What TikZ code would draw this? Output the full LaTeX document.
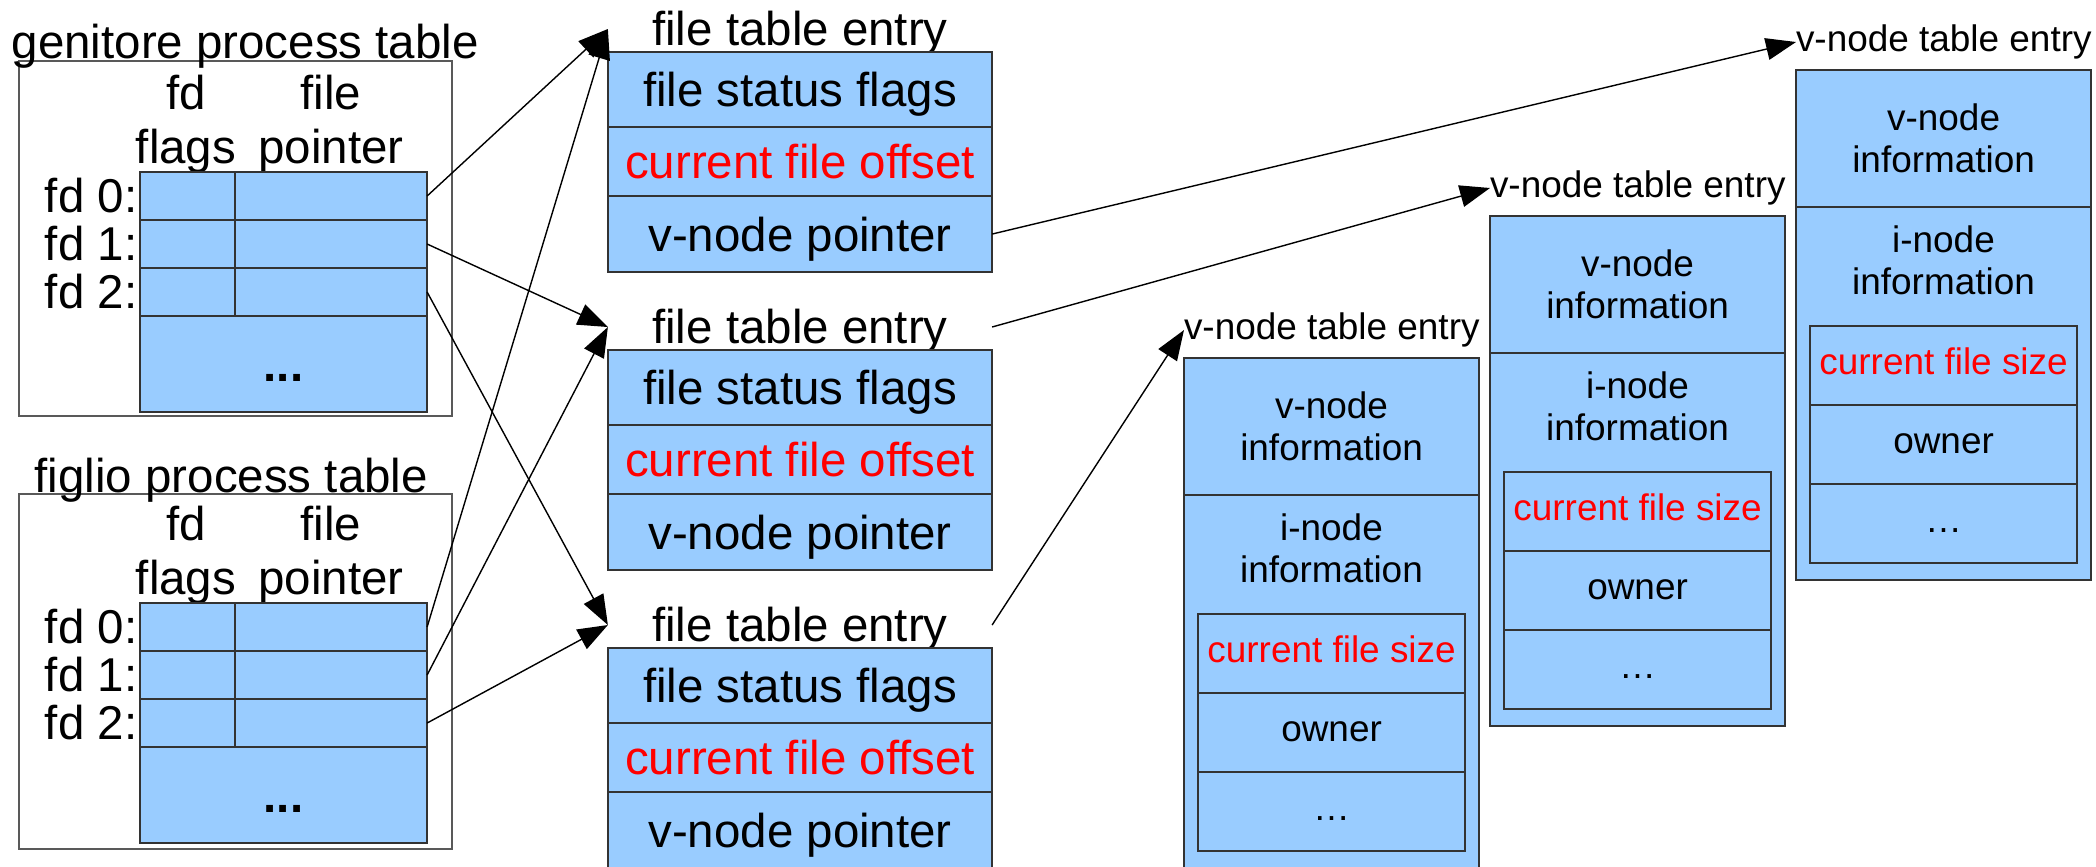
\documentclass[tikz,border=0pt]{standalone}
\usepackage{fontspec}
\setmainfont{Liberation Sans}
\usetikzlibrary{arrows.meta}

\definecolor{cellblue}{HTML}{99CCFF}
\definecolor{framegray}{HTML}{333333}

\tikzset{
  cell/.style 2 args={draw=framegray, fill=cellblue, line width=0.5pt, inner sep=0pt, outer sep=0pt,
    anchor=north west, minimum width=#1, minimum height=#2},
  procbox/.style={draw=black!65, fill=white, line width=0.5pt, inner sep=0pt, outer sep=0pt,
    anchor=north west, minimum width=4.33cm, minimum height=3.55cm},
  big/.style={font=\fontsize{13.5}{15}\selectfont, inner sep=0pt},
  small/.style={font=\fontsize{10.5}{11.9}\selectfont, inner sep=0pt},
  bigcell/.style={big, text height=10.5pt, text depth=0.8pt},
  smallcell/.style={small, text height=7.35pt, text depth=2.1pt},
  ftitle/.style={big, outer sep=0pt, minimum width=3.84cm, minimum height=0.46cm,
    text height=10pt, text depth=0.9pt},
  ptr/.style={-{Triangle[length=0.3cm, width=0.22cm]}, line width=0.4pt},
}

\begin{document}
\begin{tikzpicture}[x=0.01cm, y=-0.01cm]
  \useasboundingbox (0,0) rectangle (2096,866);
  \clip (0,0) rectangle (2096,866);

  % Nodes: process table of the parent
  \node[procbox] (gen) at (19,61) {};
  \node[big, anchor=base west] (gen-title) at (11,58) {genitore process table};
  \node[big, anchor=base] (gen-h1) at (186,109) {fd};
  \node[big, anchor=base] (gen-h2) at (186,163) {flags};
  \node[big, anchor=base] (gen-h3) at (331,109) {file};
  \node[big, anchor=base] (gen-h4) at (331,163) {pointer};
  \foreach \i in {0,1,2} {
    \node[cell={0.95cm}{0.48cm}] (gen-flags\i) at (140,{172+48*\i}) {};
    \node[cell={1.92cm}{0.48cm}] (gen-ptr\i) at (235,{172+48*\i}) {};
    \node[big, anchor=base east] (gen-fd\i) at (138,{212+48*\i}) {fd \i:};
  }
  \node[cell={2.87cm}{0.96cm}, bigcell] (gen-rest) at (140,316) {\textbf{...}};

  % Nodes: process table of the child
  \node[procbox] (fig) at (19,494) {};
  \node[big, anchor=base west] (fig-title) at (34,492) {figlio process table};
  \node[big, anchor=base] (fig-h1) at (186,540) {fd};
  \node[big, anchor=base] (fig-h2) at (186,594) {flags};
  \node[big, anchor=base] (fig-h3) at (331,540) {file};
  \node[big, anchor=base] (fig-h4) at (331,594) {pointer};
  \foreach \i in {0,1,2} {
    \node[cell={0.95cm}{0.48cm}] (fig-flags\i) at (140,{603+48*\i}) {};
    \node[cell={1.92cm}{0.48cm}] (fig-ptr\i) at (235,{603+48*\i}) {};
    \node[big, anchor=base east] (fig-fd\i) at (138,{643+48*\i}) {fd \i:};
  }
  \node[cell={2.87cm}{0.96cm}, bigcell] (fig-rest) at (140,747) {\textbf{...}};

  % Nodes: file table entries
  \foreach \n/\ty in {1/52, 2/350, 3/648} {
    \node[ftitle] (fe\n-title) at (800,{\ty-23}) {file table entry};
    \node[cell={3.84cm}{0.75cm}, bigcell] (fe\n-flags) at (608,\ty) {file status flags};
    \node[cell={3.84cm}{0.69cm}, bigcell, text=red] (fe\n-offset) at (608,{\ty+75}) {current file offset};
    \node[cell={3.84cm}{0.76cm}, bigcell] (fe\n-vptr) at (608,{\ty+144}) {v-node pointer};
  }

  % Nodes: v-node table entries
  \foreach \n/\vx/\vy in {1/1184/358, 2/1490/216, 3/1796/70} {
    \node[cell={2.95cm}{5.10cm}] (vn\n) at (\vx,\vy) {};
    \node[small, anchor=west, outer sep=0pt] (vn\n-title) at (\vx,{\vy-28}) {v-node table entry};
    \node[cell={2.95cm}{1.37cm}, small, align=center] (vn\n-vinfo) at (\vx,\vy) {v-node\\information};
    \node[small, align=center] (vn\n-iinfo) at ({\vx+147.5},{\vy+190}) {i-node\\information};
    \node[cell={2.67cm}{0.79cm}, smallcell, text=red] (vn\n-size) at ({\vx+14},{\vy+256}) {current file size};
    \node[cell={2.67cm}{0.79cm}, smallcell] (vn\n-owner) at ({\vx+14},{\vy+335}) {owner};
    \node[cell={2.67cm}{0.79cm}, smallcell] (vn\n-more) at ({\vx+14},{\vy+414}) {\dots};
  }

  % Arrows
  \draw[ptr] (gen-ptr0.east) -- (fe1-title.west);
  \draw[ptr] (gen-ptr1.east) -- (fe2-title.west);
  \draw[ptr] (gen-ptr2.east) -- (fe3-title.west);
  \draw[ptr] (fig-ptr0.east) -- (fe1-title.west);
  \draw[ptr] (fig-ptr1.east) -- (fe2-title.west);
  \draw[ptr] (fig-ptr2.east) -- (fe3-title.west);
  \draw[ptr] (fe1-vptr.east) -- (vn3-title.west);
  \draw[ptr] (fe2-title.east) -- (vn2-title.west);
  \draw[ptr] (fe3-title.east) -- (vn1-title.west);
\end{tikzpicture}
\end{document}
